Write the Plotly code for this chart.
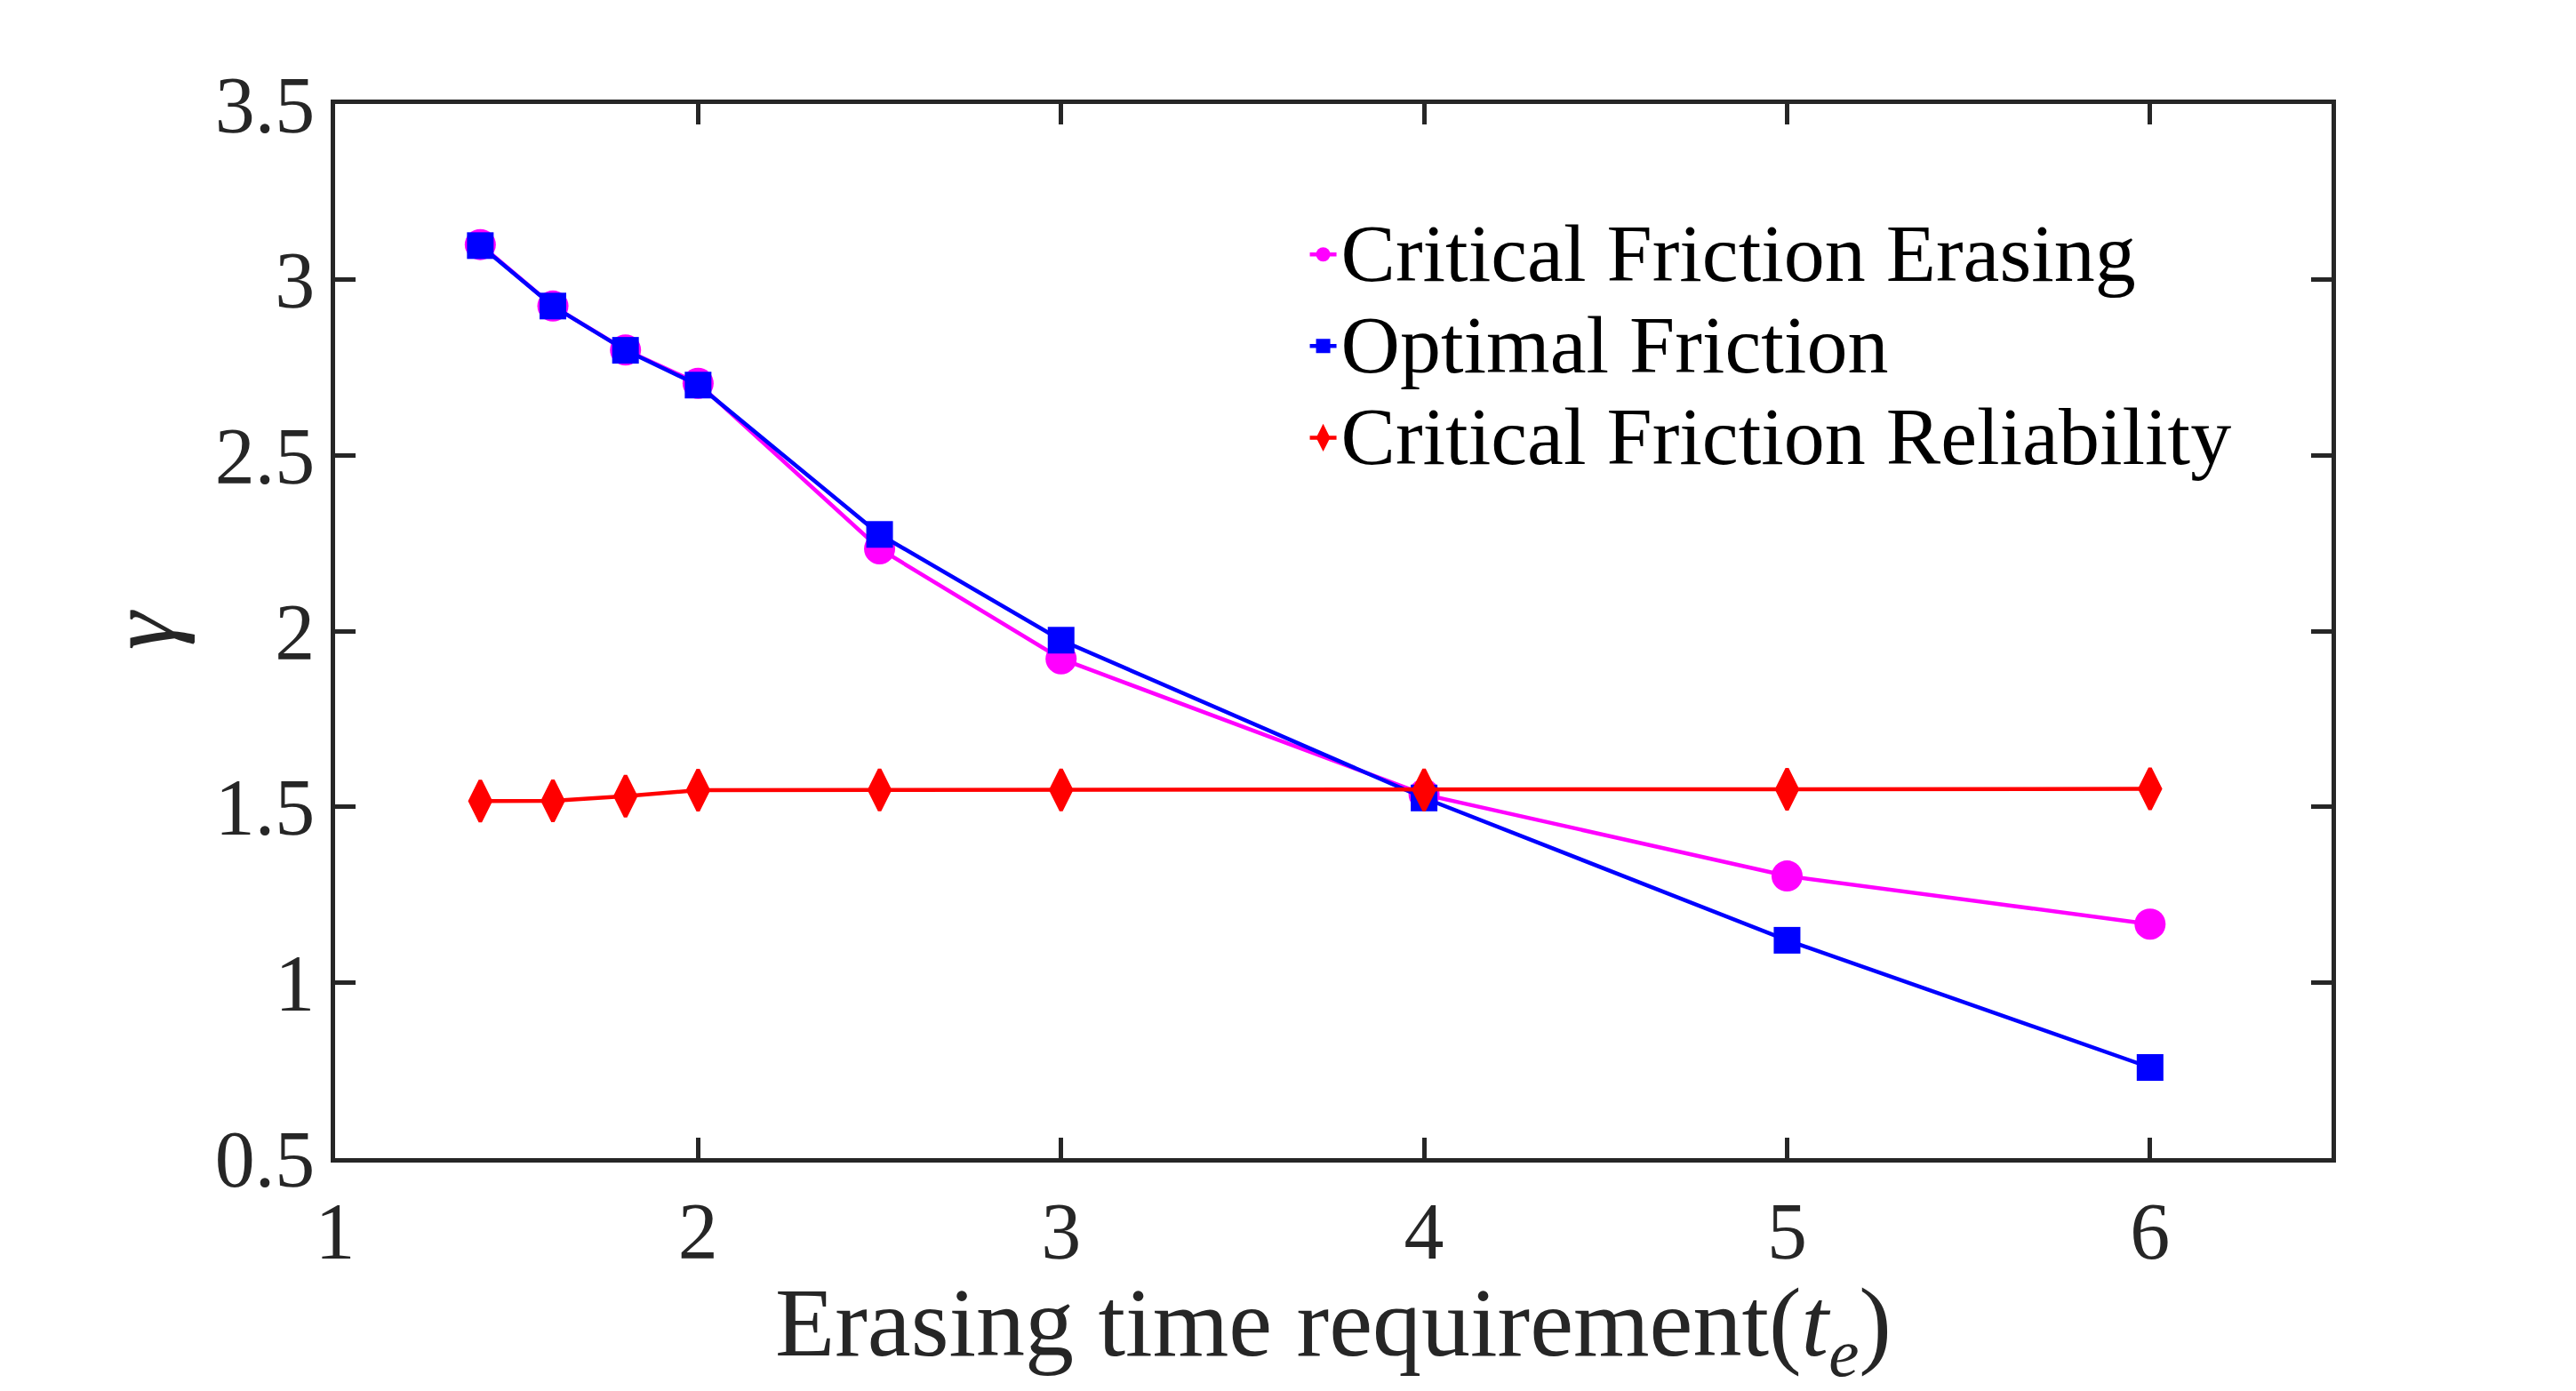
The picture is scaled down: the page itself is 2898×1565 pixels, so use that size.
import plotly.graph_objects as go

# Data
te = [1.4, 1.6, 1.8, 2.0, 2.5, 3.0, 4.0, 5.0, 6.0]
critical_erasing = [3.10, 2.925, 2.80, 2.705, 2.234, 1.921, 1.535, 1.303, 1.166]
optimal_friction = [3.097, 2.925, 2.799, 2.700, 2.275, 1.974, 1.525, 1.120, 0.758]
critical_reliability = [1.516, 1.517, 1.530, 1.547, 1.548, 1.548, 1.548, 1.550, 1.551]

series_names = ["Critical Friction Erasing", "Optimal Friction", "Critical Friction Reliability"]

x_tickvals = [1, 2, 3, 4, 5, 6]
x_ticktext = ["1", "2", "3", "4", "5", "6"]
y_tickvals = [0.5, 1.0, 1.5, 2.0, 2.5, 3.0, 3.5]
y_ticktext = ["0.5", "1", "1.5", "2", "2.5", "3", "3.5"]

FONT = "Liberation Serif"
AX = "#262626"


def legend_label(s):
    return '<span style="font-size:92px">' + s + '</span>'


fig = go.Figure()
fig.add_trace(go.Scatter(
    x=te, y=critical_erasing, name=legend_label(series_names[0]), mode="lines+markers",
    line=dict(color="#FF00FF", width=4.5),
    marker=dict(symbol="circle", size=35, color="#FF00FF"),
))
fig.add_trace(go.Scatter(
    x=te, y=optimal_friction, name=legend_label(series_names[1]), mode="lines+markers",
    line=dict(color="#0000FF", width=4.5),
    marker=dict(symbol="square", size=30, color="#0000FF"),
))
fig.add_trace(go.Scatter(
    x=te, y=critical_reliability, name=legend_label(series_names[2]), mode="lines+markers",
    line=dict(color="#FF0000", width=4.5),
    marker=dict(symbol="diamond-tall", size=33, color="#FF0000",
                line=dict(color="#FF0000", width=4)),
))

axis_common = dict(
    showline=True, linecolor=AX, linewidth=4.5, mirror="ticks",
    ticks="inside", ticklen=23, tickwidth=4.5, tickcolor=AX,
    showgrid=False, zeroline=False,
    tickfont=dict(family=FONT, size=90, color=AX),
)

fig.update_layout(
    width=2898, height=1565,
    margin=dict(l=377, r=275, t=117, b=262, pad=0),
    paper_bgcolor="white", plot_bgcolor="white",
    font=dict(family=FONT, color=AX),
    xaxis=dict(
        range=[1, 6.5], tickvals=x_tickvals, ticktext=x_ticktext,
        title=dict(text="Erasing time requirement(<i>t<sub>e</sub></i>)",
                   font=dict(family=FONT, size=110, color=AX), standoff=24),
        **axis_common,
    ),
    yaxis=dict(
        range=[0.5, 3.5], tickvals=y_tickvals, ticktext=y_ticktext,
        title=dict(text="<i>γ</i>", font=dict(family=FONT, size=108, color=AX), standoff=10),
        **axis_common,
    ),
    legend=dict(
        x=0.486, y=0.905, xanchor="left", yanchor="top",
        bgcolor="rgba(0,0,0,0)", borderwidth=0,
        font=dict(family=FONT, size=77, color="black"),
        itemwidth=30, tracegroupgap=0,
    ),
)

fig.write_html("out.html")
